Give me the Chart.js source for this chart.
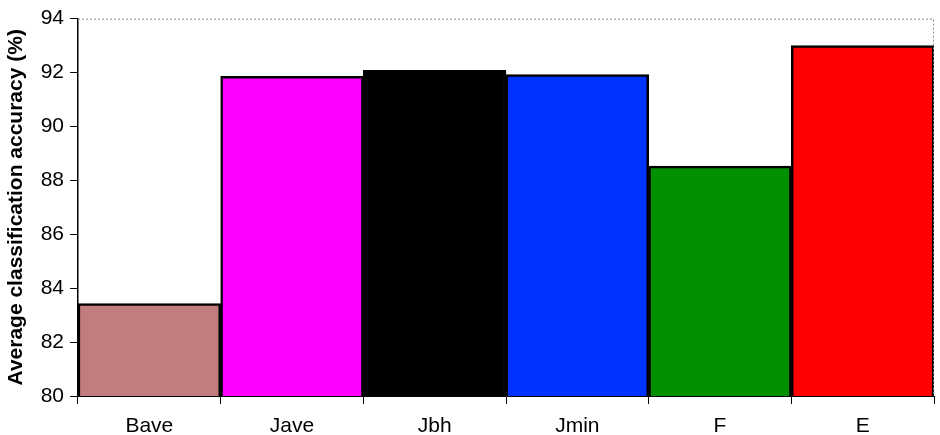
<!DOCTYPE html>
<html>
<head>
<meta charset="utf-8">
<script src="https://cdn.jsdelivr.net/npm/chart.js@4/dist/chart.umd.min.js"></script>
<style>
  html, body { margin: 0; padding: 0; background: #fff; }
  #wrap { width: 940px; height: 435px; }
</style>
</head>
<body>
<div id="wrap"><canvas id="chart" width="940" height="435"></canvas></div>
<script>
// data
const methods = ["Bave", "Jave", "Jbh", "Jmin", "F", "E"];
const accuracy = [83.43, 91.86, 92.08, 91.92, 88.53, 93.0];
const barColors = ["#c27c80", "#ff00ff", "#000000", "#0033ff", "#009000", "#ff0000"];
const yTicks = [80, 82, 84, 86, 88, 90, 92, 94];

// dotted frame on top and right of the plot
const frame = {
  id: "frame",
  afterDraw(chart) {
    const { ctx, chartArea: a } = chart;
    ctx.save();
    ctx.strokeStyle = "#888";
    ctx.lineWidth = 1;
    ctx.setLineDash([2, 2]);
    ctx.beginPath();
    ctx.moveTo(a.left, a.top + 0.5);
    ctx.lineTo(a.right - 0.5, a.top + 0.5);
    ctx.lineTo(a.right - 0.5, a.bottom);
    ctx.stroke();
    ctx.restore();
  }
};

new Chart(document.getElementById("chart").getContext("2d"), {
  type: "bar",
  data: {
    labels: methods,
    datasets: [{
      data: accuracy,
      backgroundColor: barColors,
      borderColor: "#000",
      borderWidth: 2.5,
      borderSkipped: false,
      barPercentage: 1,
      categoryPercentage: 1
    }]
  },
  options: {
    responsive: false,
    animation: false,
    layout: { padding: { top: 17, right: 6, left: 4, bottom: 0 } },
    plugins: { legend: { display: false }, tooltip: { enabled: false } },
    scales: {
      x: {
        grid: { drawOnChartArea: false, offset: true, tickLength: 8, color: "#000" },
        border: { color: "#000", width: 1 },
        ticks: { color: "#000", font: { family: "Liberation Sans", size: 21 }, padding: 10 },
        afterFit: (s) => { s.height = 39; }
      },
      y: {
        min: 80,
        max: 94,
        afterBuildTicks: (s) => { s.ticks = yTicks.map((v) => ({ value: v })); },
        grid: { drawOnChartArea: false, tickLength: 8, color: "#000" },
        border: { color: "#000", width: 1.5 },
        ticks: { color: "#000", font: { family: "Liberation Sans", size: 21 }, padding: 6 },
        title: {
          display: true,
          text: "Average classification accuracy (%)",
          color: "#000",
          font: { family: "Liberation Sans", size: 21, weight: "bold" },
          padding: { top: 0, bottom: 4 }
        },
        afterFit: (s) => { s.width = 74; }
      }
    }
  },
  plugins: [frame]
});
</script>
</body>
</html>
